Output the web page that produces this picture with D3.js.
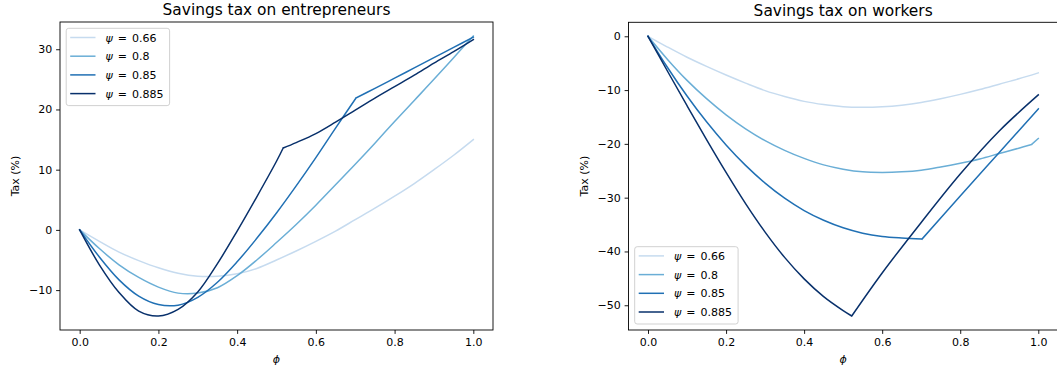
<!DOCTYPE html>
<html><head><meta charset="utf-8">
<script src="https://cdn.jsdelivr.net/npm/d3@7"></script>
<style>
body{margin:0;background:#fff;}
text{font-family:"DejaVu Sans",sans-serif;fill:#000;}
</style>
</head><body>
<svg id="c" width="1057" height="372"></svg>
<script>
// ---------- data ----------
const psiLabels = ["0.66", "0.8", "0.85", "0.885"];
const seriesColors = ["#c6dbef", "#6aaed6", "#2070b4", "#08306b"];
const xTicks = [0, 0.2, 0.4, 0.6, 0.8, 1.0];
const entYTicks = [-10, 0, 10, 20, 30];
const wrkYTicks = [-50, -40, -30, -20, -10, 0];
const titles = ["Savings tax on entrepreneurs", "Savings tax on workers"];

const phiGrid = [0,0.05,0.1,0.15,0.2,0.25,0.3,0.35,0.4,0.45,0.5,0.55,0.6,0.65,0.7,0.75,0.8,0.85,0.9,0.95,1.0];

// Entrepreneurs
const entPhi066 = phiGrid;
const entTax066 = [0,-1.9,-3.7,-5.1,-6.3,-7.2,-7.7,-7.7,-7.3,-6.4,-5.0,-3.5,-1.9,-0.2,1.7,3.6,5.6,7.7,10.0,12.4,15.0];
const entPhi08 = phiGrid;
const entTax08 = [0,-3.1,-5.8,-7.9,-9.5,-10.5,-10.5,-9.6,-7.6,-5.0,-2.1,0.9,4.1,7.5,10.9,14.4,18.0,21.5,25.0,28.6,32.2];
const entPhi085 = [0,0.05,0.1,0.15,0.2,0.25,0.3,0.35,0.4,0.45,0.5,0.55,0.6,0.65,0.702,0.75,0.8,0.85,0.9,0.95,1.0];
const entTax085 = [0,-4.5,-8.3,-11.0,-12.4,-12.5,-11.2,-8.7,-5.3,-1.4,2.8,7.3,12.0,16.9,21.9,23.5,25.2,26.9,28.6,30.3,32.0];
const entPhi0885 = [0,0.05,0.1,0.15,0.2,0.25,0.3,0.35,0.4,0.45,0.5,0.517,0.55,0.6,0.65,0.7,0.75,0.8,0.85,0.9,0.95,1.0];
const entTax0885 = [0,-5.8,-10.4,-13.5,-14.3,-13.2,-10.3,-5.6,-0.2,5.5,11.4,13.6,14.5,16.0,17.9,19.9,21.9,23.8,25.7,27.7,29.6,31.6];
const entKinks = [[], [], [0.702], [0.517]];

// Workers
const wrkPhi066 = phiGrid;
const wrkTax066 = [0,-2.0,-3.9,-5.6,-7.2,-8.7,-10.1,-11.2,-12.1,-12.7,-13.1,-13.2,-13.1,-12.8,-12.3,-11.6,-10.8,-9.9,-8.9,-7.9,-6.8];
const wrkPhi08 = [0,0.05,0.1,0.15,0.2,0.25,0.3,0.35,0.4,0.45,0.5,0.55,0.6,0.65,0.7,0.75,0.8,0.85,0.9,0.95,0.983,1.0];
const wrkTax08 = [0,-4.3,-8.2,-11.6,-14.6,-17.2,-19.4,-21.2,-22.7,-23.9,-24.7,-25.2,-25.3,-25.2,-24.9,-24.3,-23.6,-22.8,-21.8,-20.8,-20.1,-19.0];
const wrkPhi085 = [0,0.05,0.1,0.15,0.2,0.25,0.3,0.35,0.4,0.45,0.5,0.55,0.6,0.65,0.702,0.8,0.9,1.0];
const wrkTax085 = [0,-5.8,-11.1,-15.9,-20.2,-24.0,-27.3,-30.1,-32.4,-34.2,-35.6,-36.6,-37.2,-37.5,-37.7,-29.7,-21.6,-13.5];
const wrkPhi0885 = [0,0.05,0.1,0.15,0.2,0.25,0.3,0.35,0.4,0.45,0.5,0.522,0.6,0.7,0.8,0.9,1.0];
const wrkTax0885 = [0,-6.5,-12.9,-19.2,-25.3,-31.1,-36.4,-41.1,-45.1,-48.4,-51.0,-52.0,-44.0,-34.6,-25.6,-17.6,-10.9];
const wrkKinks = [[], [0.983], [0.702], [0.522]];

// ---------- drawing ----------
const svg = d3.select("#c");
svg.append("rect").attr("width",1057).attr("height",372).attr("fill","#fff");
const FS = 11;
const minus = s => s.replace("-", "\u2212");

const panels = [
  {box:{l:60, r:493, t:22, b:330}, title:titles[0], yTicks:entYTicks,
   series:[[entPhi066,entTax066],[entPhi08,entTax08],[entPhi085,entTax085],[entPhi0885,entTax0885]],
   kinks:entKinks, legend:"top", ylabelX:19},
  {box:{l:628.5, r:1057.8, t:22.3, b:330}, title:titles[1], yTicks:wrkYTicks,
   series:[[wrkPhi066,wrkTax066],[wrkPhi08,wrkTax08],[wrkPhi085,wrkTax085],[wrkPhi0885,wrkTax0885]],
   kinks:wrkKinks, legend:"bottom", ylabelX:588}
];

panels.forEach(p => {
  const {l,r,t,b} = p.box;
  const x = d3.scaleLinear().domain([-0.05,1.05]).range([l,r]);
  const all = p.series.flatMap(s => s[1]);
  const mn = d3.min(all), mx = d3.max(all), pad = (mx-mn)*0.05;
  const y = d3.scaleLinear().domain([mn-pad, mx+pad]).range([b,t]);
  const g = svg.append("g");

  // lines (smooth within segments, sharp corners at kinks)
  const line = d3.line().x(d=>x(d[0])).y(d=>y(d[1])).curve(d3.curveCatmullRom.alpha(0.5));
  p.series.forEach((s,i) => {
    const pts = s[0].map((ph,j)=>[ph, s[1][j]]);
    const segs = []; let cur = [];
    pts.forEach(pt => {
      cur.push(pt);
      if (p.kinks[i].includes(pt[0])) { segs.push(cur); cur = [pt]; }
    });
    segs.push(cur);
    const d = segs.filter(sg=>sg.length>1).map(sg=>line(sg)).join("");
    g.append("path").attr("d", d).attr("fill","none")
      .attr("stroke", seriesColors[i]).attr("stroke-width",1.5)
      .attr("stroke-linejoin","round").attr("stroke-linecap","square");
  });

  // frame
  g.append("rect").attr("x",l).attr("y",t).attr("width",r-l).attr("height",b-t)
    .attr("fill","none").attr("stroke","#000").attr("stroke-width",0.9);

  // axes
  const xa = g.append("g").attr("transform",`translate(0,${b})`)
    .call(d3.axisBottom(x).tickValues(xTicks).tickFormat(d3.format(".1f")).tickSize(3.9).tickPadding(3.9));
  const ya = g.append("g").attr("transform",`translate(${l},0)`)
    .call(d3.axisLeft(y).tickValues(p.yTicks).tickFormat(v=>minus(String(v))).tickSize(3.9).tickPadding(3.9));
  [xa,ya].forEach(a => {
    a.select(".domain").remove();
    a.selectAll("line").attr("stroke","#000").attr("stroke-width",0.9);
    a.selectAll("text").attr("font-family","DejaVu Sans").attr("font-size",FS).attr("fill","#000");
  });

  // title & labels
  g.append("text").attr("x",(l+r)/2).attr("y",t-6.6)
    .attr("text-anchor","middle").attr("font-size",15.4).text(p.title);
  g.append("text").attr("x",(l+r)/2).attr("y",363).attr("text-anchor","middle")
    .attr("font-size",FS).attr("font-style","italic").text("\u03D5");
  g.append("text").attr("transform",`translate(${p.ylabelX},${(t+b)/2}) rotate(-90)`)
    .attr("text-anchor","middle").attr("font-size",FS).text("Tax (%)");

  // legend
  const lw = 103.4, lh = 77.3;
  const lx = l + 6.2;
  const ly = p.legend==="top" ? t + 6.3 : b - 6 - lh;
  const lg = g.append("g");
  lg.append("rect").attr("x",lx).attr("y",ly).attr("width",lw).attr("height",lh)
    .attr("rx",2.5).attr("fill","#fff").attr("fill-opacity",0.8)
    .attr("stroke","#cccccc").attr("stroke-width",0.9);
  psiLabels.forEach((lab,i) => {
    const cy = ly + 9.2 + i*18.7;
    lg.append("line").attr("x1",lx+4).attr("x2",lx+29.3).attr("y1",cy).attr("y2",cy)
      .attr("stroke",seriesColors[i]).attr("stroke-width",1.5);
    lg.append("text").attr("x",lx+39.2).attr("y",cy+4).attr("font-size",FS)
      .attr("font-style","italic").text("\u03C8");
    lg.append("text").attr("x",lx+51.5).attr("y",cy+4).attr("font-size",FS).text("=");
    lg.append("text").attr("x",lx+65.8).attr("y",cy+4).attr("font-size",FS).text(lab);
  });
});
</script>
</body></html>
